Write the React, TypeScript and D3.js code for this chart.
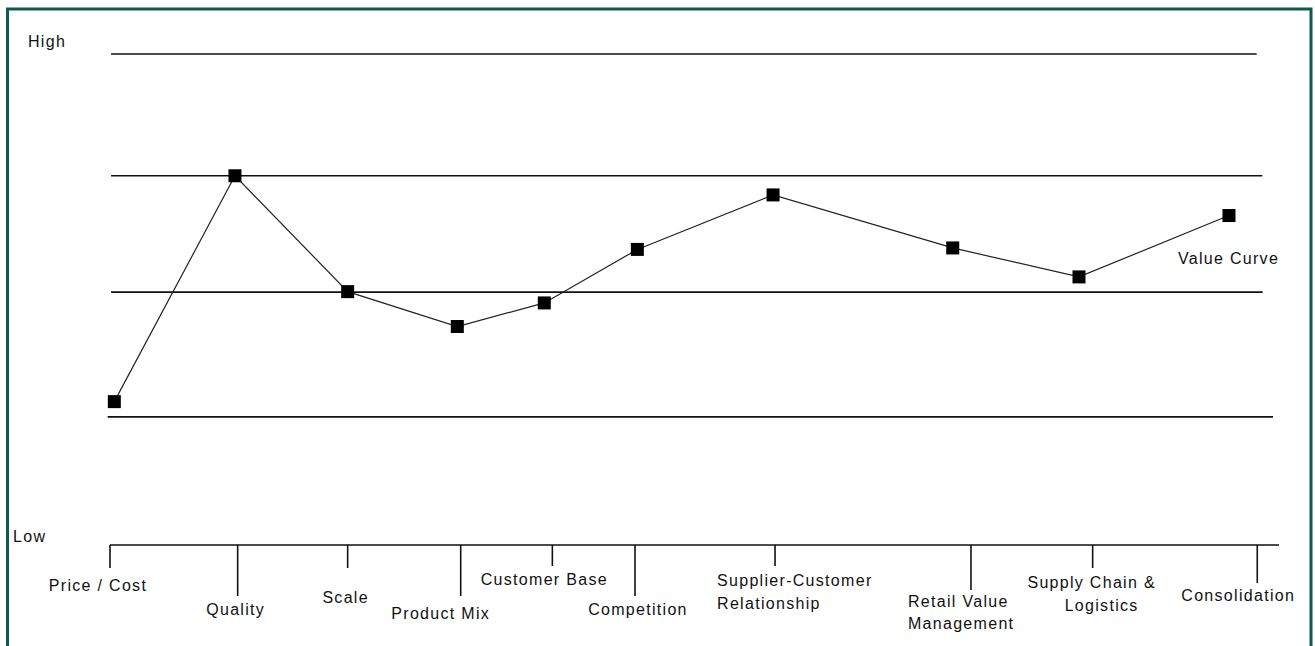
import React from "react";
import * as d3 from "d3";

// ---- data ----
const categories: string[][] = [
  ["Price / Cost"],
  ["Quality"],
  ["Scale"],
  ["Product Mix"],
  ["Customer Base"],
  ["Competition"],
  ["Supplier-Customer", "Relationship"],
  ["Retail Value", "Management"],
  ["Supply Chain &", "Logistics"],
  ["Consolidation"],
];
// horizontal position of each value-curve point (0..100 along the axis)
const pointPositions = [0.37, 10.69, 20.33, 29.71, 37.15, 45.11, 56.72, 72.09, 82.89, 95.72];
// level of each point (0 = Low axis, 10 = High)
const values = [2.92, 7.52, 5.16, 4.45, 4.93, 6.02, 7.13, 6.05, 5.46, 6.71];
// position of each category tick on the axis (0..100)
const tickPositions = [0, 10.92, 20.33, 30.0, 37.84, 44.91, 56.89, 73.65, 84.06, 98.14];
// reference level lines
const levelValues = [10, 7.52, 5.15, 2.61];
const levelStarts = [0.09, 0.09, 0.09, -0.2];
const levelEnds = [98.09, 98.57, 98.6, 99.49];
const seriesName = "Value Curve";
const highLabel = "High";
const lowLabel = "Low";

// ---- layout (pixels) ----
const W = 1315;
const H = 646;
const tickLengths = [23, 51, 23, 51, 21, 51, 21, 45, 23, 38];
const labelAnchors = ["middle", "middle", "middle", "middle", "middle", "middle", "start", "start", "middle", "middle"];
const labelDx = [[-12], [-2], [-2], [-20], [-8], [3], [-58, -58], [-63, -63], [-1, 9], [-19]];
const labelDy = [[46], [70], [58], [74], [40], [70], [41, 64], [62, 84], [43, 66], [56]];

const FONT = "'Liberation Sans', Arial, Helvetica, sans-serif";

export default function App() {
  const x = d3.scaleLinear().domain([0, 100]).range([110, 1279]);
  const y = d3.scaleLinear().domain([0, 10]).range([545, 54]);
  const axisY = y(0);

  const pts: [number, number][] = values.map((v, i) => [x(pointPositions[i]), y(v)]);
  const line = d3.line<[number, number]>().x((d) => d[0]).y((d) => d[1]);
  const last = pts[pts.length - 1];
  const ms = 13;

  const textStyle: React.CSSProperties = { letterSpacing: "1.3px" };

  return (
    <svg
      width={W}
      height={H}
      style={{ position: "absolute", left: 0, top: 0, background: "#ffffff" }}
      fontFamily={FONT}
      fontSize={16}
    >
      <rect x={0} y={0} width={W} height={H} fill="#ffffff" />
      {/* frame */}
      <path d={`M7.5,${H} V9 H1311 V${H}`} fill="none" stroke="#0d5a4e" strokeWidth={3} />

      {/* level lines */}
      {levelValues.map((lv, i) => (
        <line
          key={"lv" + i}
          x1={x(levelStarts[i])}
          x2={x(levelEnds[i])}
          y1={y(lv)}
          y2={y(lv)}
          stroke="#111"
          strokeWidth={1.6}
        />
      ))}

      <text x={28} y={y(10) - 7} fill="#111" style={textStyle}>{highLabel}</text>
      <text x={13} y={axisY - 3} fill="#111" style={textStyle}>{lowLabel}</text>

      {/* value curve */}
      <path d={line(pts) || ""} fill="none" stroke="#222" strokeWidth={1.2} />
      {pts.map((p, i) => (
        <rect key={"m" + i} x={p[0] - ms / 2} y={p[1] - ms / 2} width={ms} height={ms} fill="#000" />
      ))}
      <text x={last[0] - 51} y={last[1] + 48} fill="#111" style={textStyle}>{seriesName}</text>

      {/* category axis */}
      <line x1={x(0)} x2={x(100)} y1={axisY} y2={axisY} stroke="#111" strokeWidth={1.6} />
      {tickPositions.map((t, i) => (
        <g key={"t" + i}>
          <line
            x1={x(t)}
            x2={x(t)}
            y1={axisY}
            y2={axisY + tickLengths[i]}
            stroke="#111"
            strokeWidth={1.6}
          />
          {categories[i].map((ln, j) => (
            <text
              key={j}
              x={x(t) + labelDx[i][j]}
              y={axisY + labelDy[i][j]}
              textAnchor={labelAnchors[i] as any}
              fill="#111"
              style={textStyle}
            >
              {ln}
            </text>
          ))}
        </g>
      ))}
    </svg>
  );
}
